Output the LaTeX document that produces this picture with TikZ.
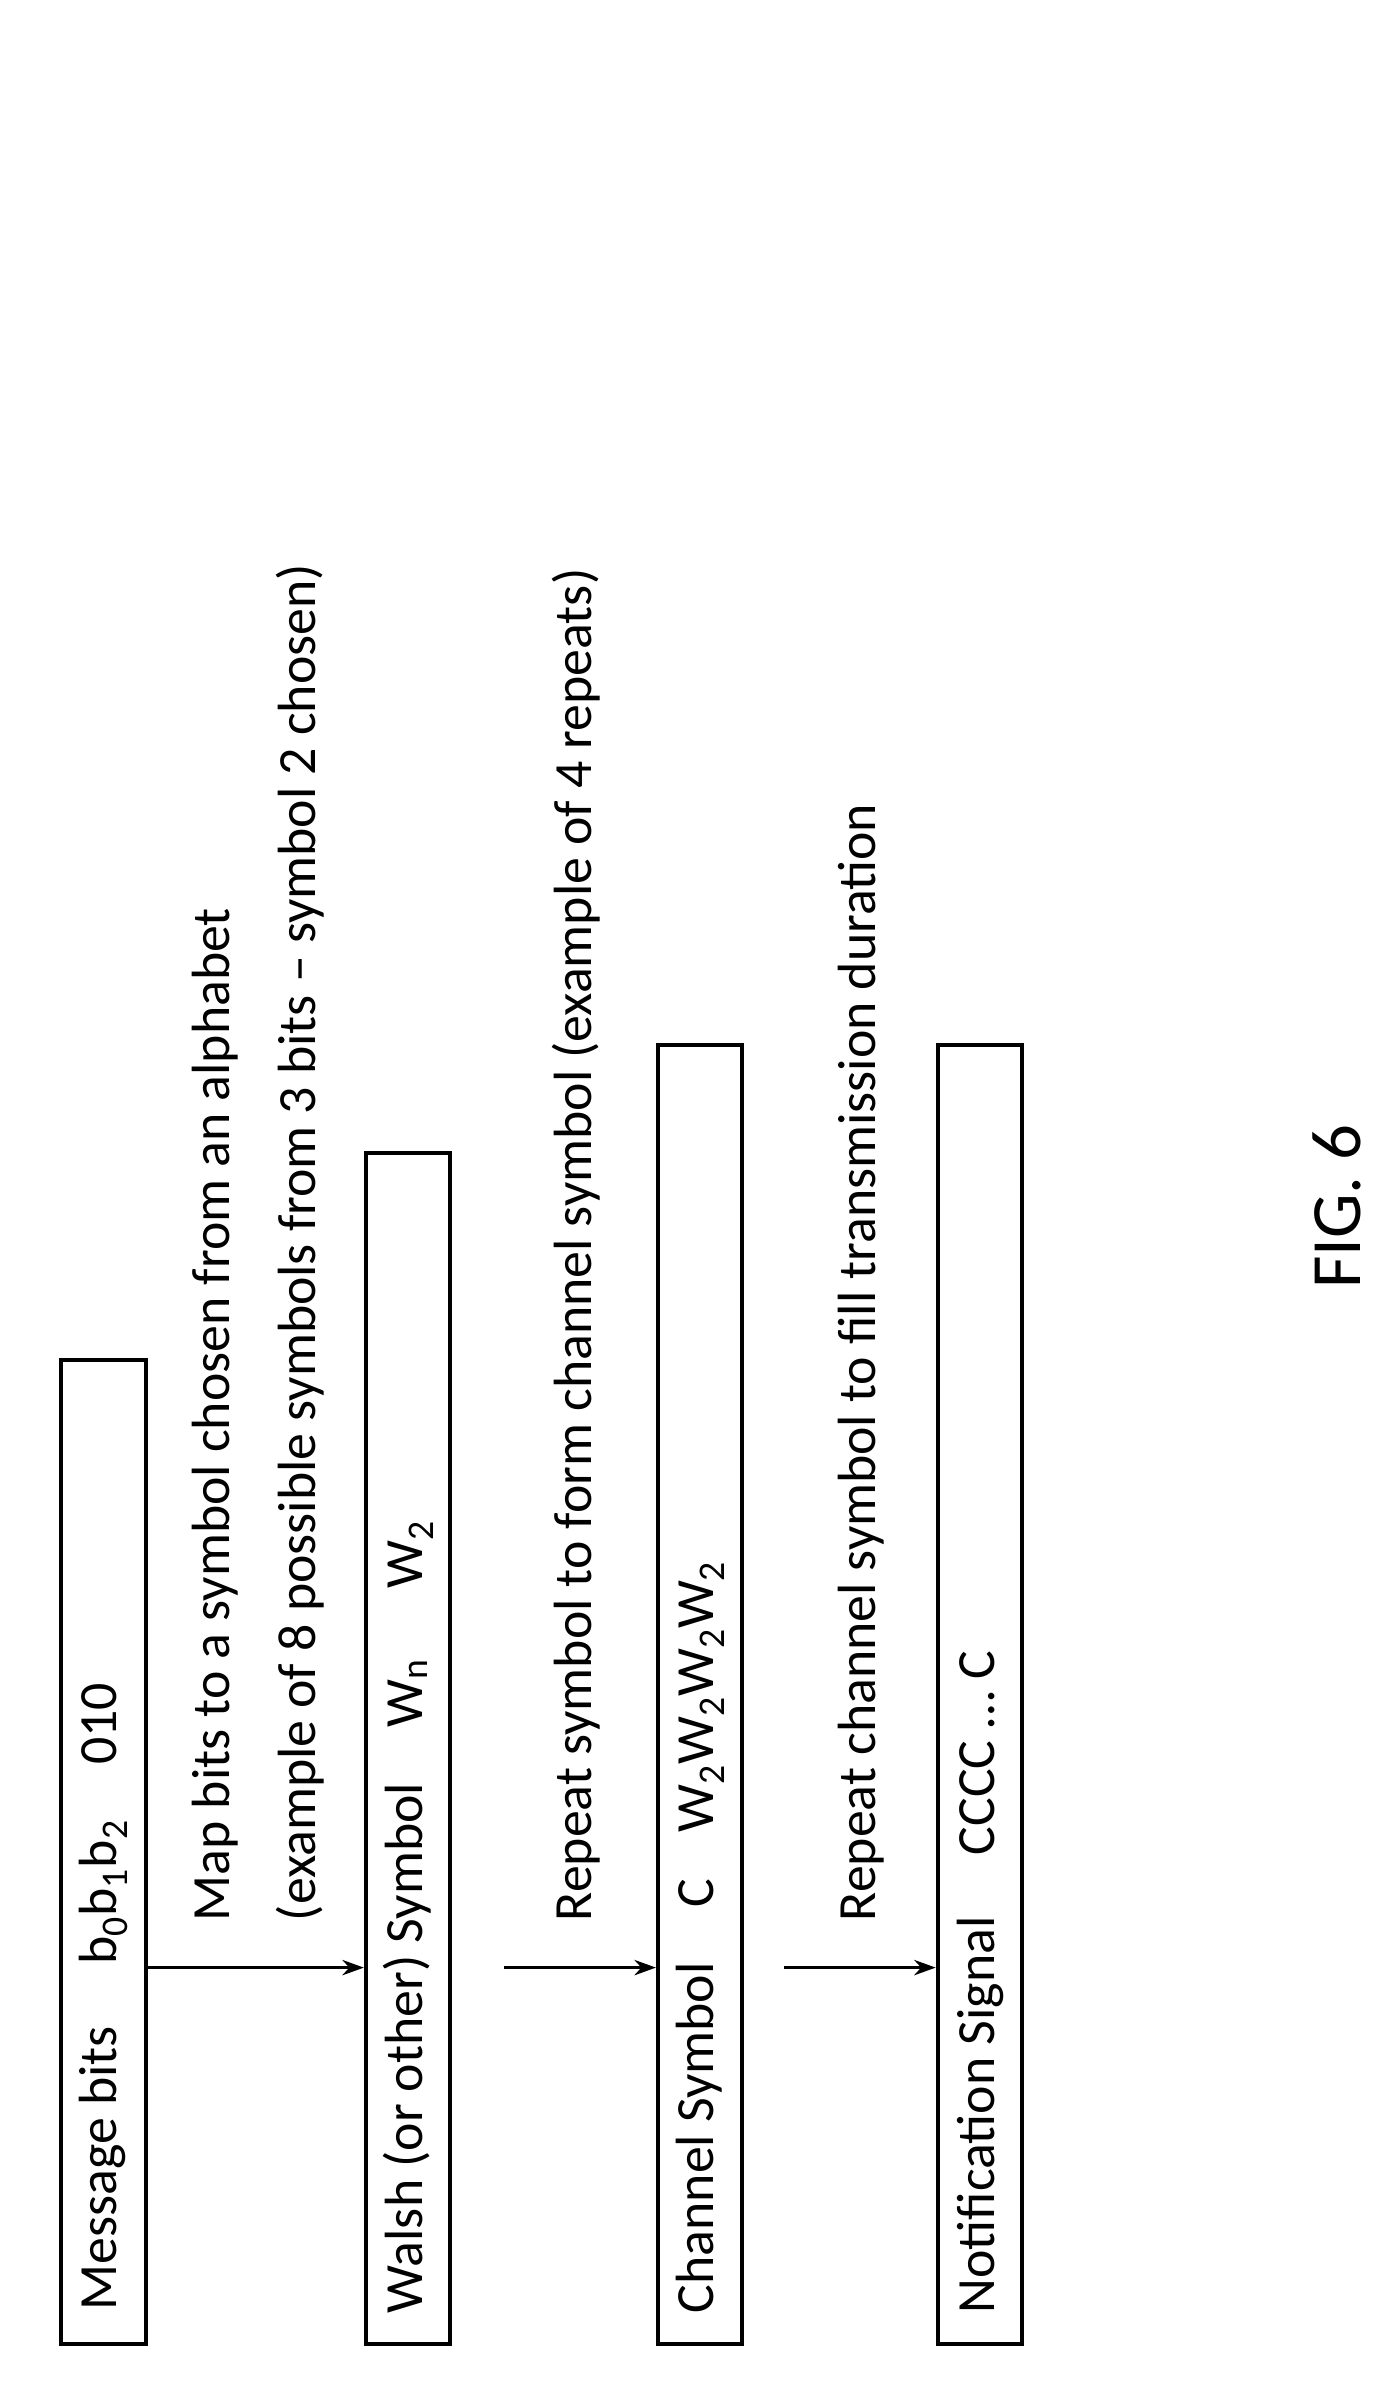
\documentclass[tikz,border=0pt]{standalone}
\usepackage{fontspec}
\setmainfont{Carlito}
\usetikzlibrary{arrows.meta}
\tikzset{
  stagebox/.style={draw, line width=2.6pt, rotate=90, minimum height=55pt, inner sep=0pt},
  stagetext/.style={rotate=90, anchor=west, inner sep=0pt, font=\fontsize{35}{42}\selectfont},
  flow/.style={line width=2pt, -{Stealth[length=14pt,width=10pt]}}
}
\begin{document}
\begin{tikzpicture}[x=1pt,y=-1pt]
    \useasboundingbox (0,0) rectangle (910,1560);

    % Stage boxes
    \node[stagebox, minimum width=640pt] (msg) at (67.5,1205) {};
    \node[stagebox, minimum width=775pt] (walsh) at (265.5,1137.5) {};
    \node[stagebox, minimum width=845pt] (chan) at (455.5,1102.5) {};
    \node[stagebox, minimum width=845pt] (notif) at (637.5,1102.5) {};

    % Box contents
    \node[stagetext] (msgt) at (67.5,1503) {Message bits\hspace{40pt}b\textsubscript{0}b\textsubscript{1}b\textsubscript{2}\hspace{36pt}010};
    \node[stagetext] (walsht) at (265.5,1505) {Walsh (or other) Symbol\hspace{36pt}W\textsubscript{n}\hspace{46pt}W\textsubscript{2}};
    \node[stagetext] (chant) at (455.5,1505) {Channel Symbol\hspace{36pt}C\hspace{30pt}W\textsubscript{2}W\textsubscript{2}W\textsubscript{2}W\textsubscript{2}};
    \node[stagetext] (notift) at (637.5,1505) {Notification Signal\hspace{40pt}CCCC \dots\ C};

    % Step descriptions
    \node[stagetext] (map1) at (140,1250) {Map bits to a symbol chosen from an alphabet};
    \node[stagetext] (map2) at (195,1250) {(example of 8 possible symbols from 3 bits -- symbol 2 chosen)};
    \node[stagetext] (rep1) at (375,1250) {Repeat symbol to form channel symbol (example of 4 repeats)};
    \node[stagetext] (rep2) at (560,1250) {Repeat channel symbol to fill transmission duration};

    % Connectors
    \coordinate (a2) at (328,1280);
    \coordinate (a3) at (510,1280);
    \draw[flow] (msg.south |- 0,1280) -- (walsh.north |- 0,1280);
    \draw[flow] (a2) -- (chan.north |- a2);
    \draw[flow] (a3) -- (notif.north |- a3);

    \node[stagetext, anchor=center, font=\fontsize{46}{52}\selectfont] (fig) at (870,785) {FIG. 6};
\end{tikzpicture}
\end{document}
